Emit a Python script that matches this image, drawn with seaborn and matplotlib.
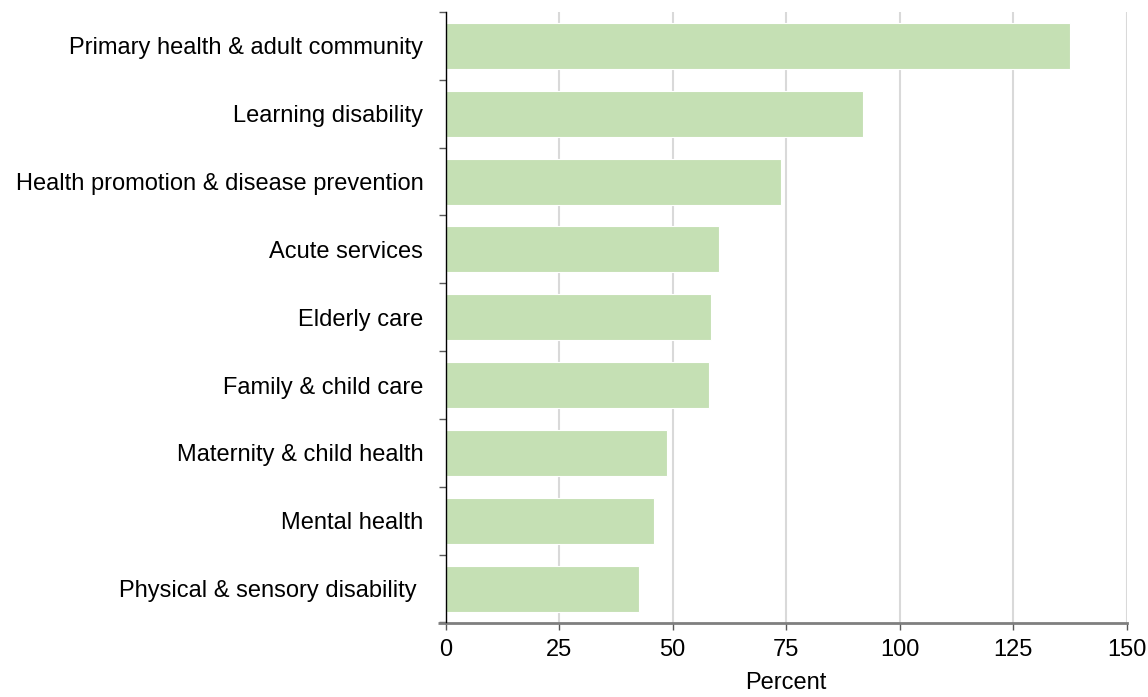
import matplotlib
matplotlib.use("Agg")
import matplotlib.pyplot as plt
import seaborn as sns
import pandas as pd
import numpy as np
from matplotlib.lines import Line2D

categories = [
    "Primary health & adult community",
    "Learning disability",
    "Health promotion & disease prevention",
    "Acute services",
    "Elderly care",
    "Family & child care",
    "Maternity & child health",
    "Mental health",
    "Physical & sensory disability ",
]
values = [137.4, 91.9, 73.9, 60.1, 58.4, 57.9, 48.7, 46.0, 42.6]
x_ticks = [0, 25, 50, 75, 100, 125, 150]
x_label = "Percent"

sns.set_theme(style="white")
plt.rcParams["font.family"] = ["Liberation Sans", "DejaVu Sans"]

df = pd.DataFrame({"category": categories, "value": values})

fig = plt.figure(figsize=(11.48, 6.97), dpi=100)
ax = fig.add_axes([445.5 / 1148, 1 - 622.5 / 697, (1127 - 445.5) / 1148, (622.5 - 12) / 697])

sns.barplot(data=df, x="value", y="category", orient="h", color="#C5E0B4",
            saturation=1, width=0.68, edgecolor="white", linewidth=0.8, ax=ax, zorder=2)

ax.set_xlim(0, 150)
ax.set_ylim(len(categories) - 0.5, -0.5)
ax.set_xticks(x_ticks)
ax.set_xticklabels([str(t) for t in x_ticks], fontsize=17)
ax.set_yticks(range(len(categories)))
ax.set_yticklabels(categories, fontsize=17)
ax.set_yticks(np.arange(-0.5, len(categories)), minor=True)

ax.tick_params(axis="y", which="major", length=0, pad=16, colors="black")
ax.tick_params(axis="y", which="minor", left=True, length=5.2, width=1.0, color="#595959")
ax.tick_params(axis="x", which="major", bottom=True, length=5, width=1.0, color="#595959", pad=7, labelcolor="black")

ax.grid(axis="x", color="#d9d9d9", linewidth=1.5, zorder=0)
ax.grid(axis="y", visible=False)
ax.set_axisbelow(True)

for s in ["top", "right"]:
    ax.spines[s].set_visible(False)
ax.spines["left"].set_color("black")
ax.spines["left"].set_linewidth(1.0)
ax.spines["left"].set_zorder(6)
ax.spines["bottom"].set_color("#7f7f7f")
ax.spines["bottom"].set_linewidth(2.0)
ax.spines["bottom"].set_zorder(5)

ext = Line2D([-7.5 / 681.5, 0], [0, 0], transform=ax.transAxes, color="#7f7f7f",
             linewidth=2.0, clip_on=False, solid_capstyle="butt", zorder=5)
ax.add_line(ext)

ax.set_xlabel(x_label, fontsize=17, labelpad=8, color="black")
ax.set_ylabel("")

fig.savefig("out.png", dpi=100, facecolor="white")
